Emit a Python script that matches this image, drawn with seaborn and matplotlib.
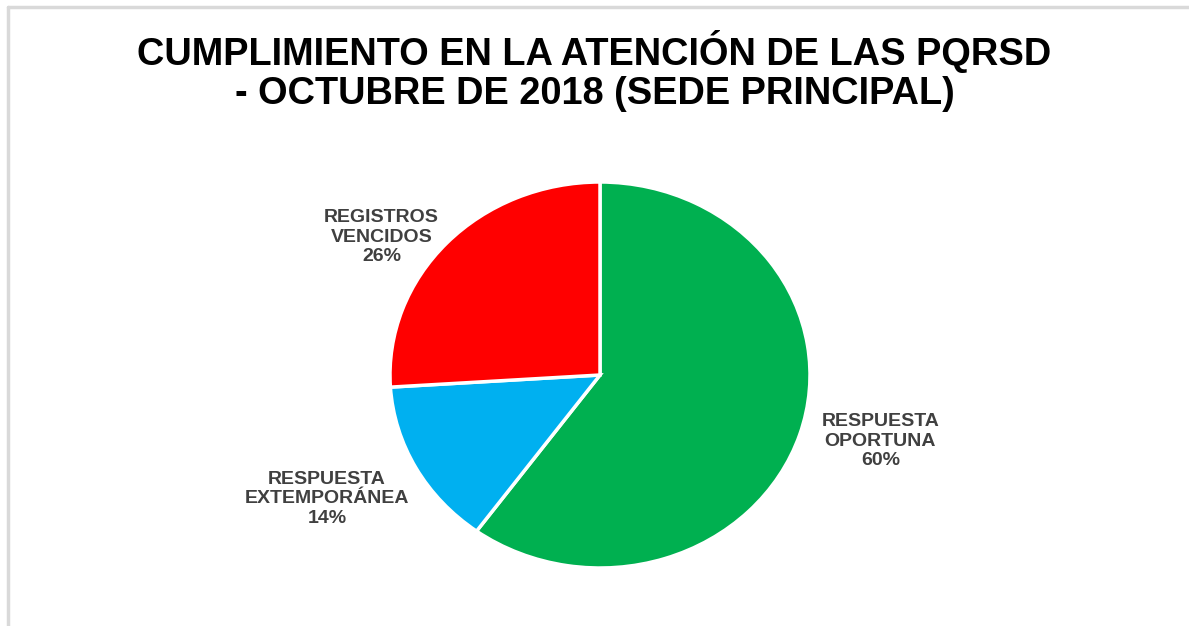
import matplotlib
matplotlib.use("Agg")
import matplotlib.pyplot as plt
import seaborn as sns
from matplotlib.lines import Line2D

categories = ["RESPUESTA\nOPORTUNA", "RESPUESTA\nEXTEMPORÁNEA", "REGISTROS\nVENCIDOS"]
values = [60, 14, 26]
colors = ["#00B050", "#00B0F0", "#FF0000"]
title = "CUMPLIMIENTO EN LA ATENCIÓN DE LAS PQRSD\n- OCTUBRE DE 2018 (SEDE PRINCIPAL)"

sns.set_theme(style="white")
plt.rcParams['font.family'] = ['Liberation Sans', 'DejaVu Sans']

W, H = 1189, 626
fig = plt.figure(figsize=(W / 100, H / 100), dpi=100)
fig.patch.set_facecolor("white")

cx, cy, rx, ry = 600, 375, 210, 193
ax = fig.add_axes([(cx - rx) / W, (H - cy - ry) / H, 2 * rx / W, 2 * ry / H])
wedges, _ = ax.pie(values, colors=colors, startangle=90, counterclock=False,
                   wedgeprops=dict(edgecolor="white", linewidth=2.5))
ax.set_aspect("auto")
ax.set_xlim(-1, 1)
ax.set_ylim(-1, 1)
ax.axis("off")

total = sum(values)
label_pos = [(1.335, -0.342), (-1.30, -0.642), (-1.04, 0.715)]
for cat, v, (lx, ly) in zip(categories, values, label_pos):
    ax.text(lx, ly, f"{cat}\n{round(100 * v / total)}%", ha="center", va="center",
            fontsize=14, fontweight="bold", color="#404040", linespacing=1.21,
            clip_on=False)

fig.text(0.5, 1 - 71 / H, title, ha="center", va="center", fontsize=27.4,
         fontweight="bold", color="black", linespacing=1.1)

# chart frame (top and left edges visible)
fig.add_artist(Line2D([7.5 / W, 7.5 / W], [0, 1 - 7 / H], transform=fig.transFigure,
                      color="#d9d9d9", linewidth=2.5))
fig.add_artist(Line2D([7.5 / W, 1], [1 - 7 / H, 1 - 7 / H], transform=fig.transFigure,
                      color="#d9d9d9", linewidth=2.5))

fig.savefig("out.png", dpi=100, facecolor="white")
